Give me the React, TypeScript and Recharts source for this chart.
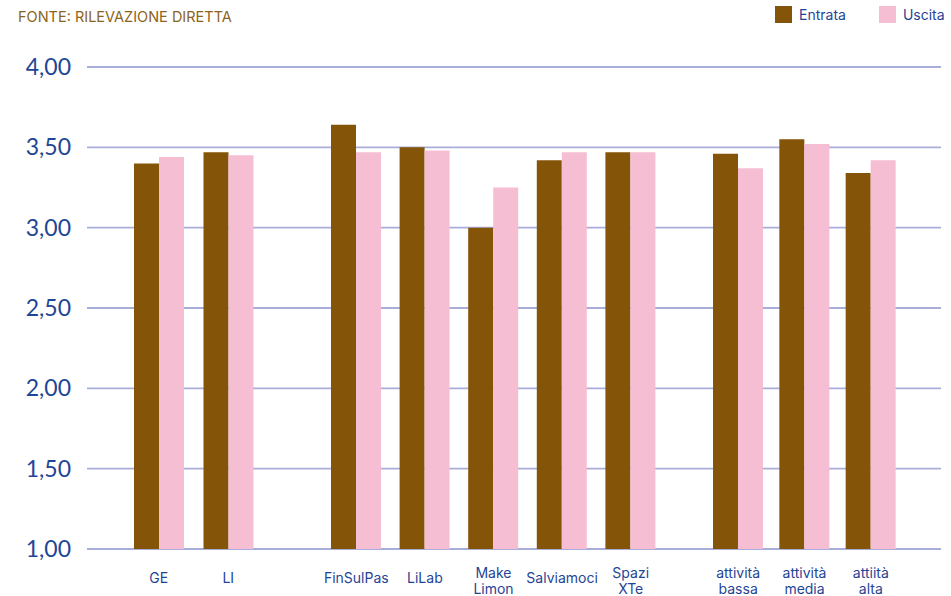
import React from "react";
import { BarChart, Bar, XAxis, YAxis, CartesianGrid } from "recharts";

const groupA = ["GE", "LI"];
const groupB = ["FinSulPas", "LiLab", "Make\nLimon", "Salviamoci", "Spazi\nXTe"];
const groupC = ["attività\nbassa", "attività\nmedia", "attiità\nalta"];

const entrataA = [3.4, 3.47];
const uscitaA = [3.44, 3.45];
const entrataB = [3.64, 3.5, 3.0, 3.42, 3.47];
const uscitaB = [3.47, 3.48, 3.25, 3.47, 3.47];
const entrataC = [3.46, 3.55, 3.34];
const uscitaC = [3.37, 3.52, 3.42];

const yTicks = [1, 1.5, 2, 2.5, 3, 3.5, 4];
const seriesNames = ["Entrata", "Uscita"];

const BROWN = "#845408";
const PINK = "#F6BED3";
const GRID = "#A9ADD9";
const BLUE = "#1F4596";
const FONT = "Inter, 'Noto Sans', sans-serif";

const build = (cats: string[], e: number[], u: number[]) =>
  cats.map((c, i) => ({ name: c, Entrata: e[i], Uscita: u[i] }));

const dataA = build(groupA, entrataA, uscitaA);
const dataB = build(groupB, entrataB, uscitaB);
const dataC = build(groupC, entrataC, uscitaC);

const XTick = (props: any) => {
  const { x, payload } = props;
  const lines = String(payload.value).split("\n");
  const base = lines.length > 1 ? 573.5 : 578.5;
  return (
    <text textAnchor="middle" fill={BLUE} fontSize={14} fontFamily={FONT}>
      {lines.map((l, i) => (
        <tspan key={i} x={x} y={base + i * 15.5} dy="0.355em">
          {l}
        </tspan>
      ))}
    </text>
  );
};

const fmt = (v: number) => v.toFixed(2).replace(".", ",");

const H = 596;
const M = { top: 67, right: 0, bottom: 0, left: 0 };

function Group({
  data,
  width,
  padL,
  padR,
  showY,
  right,
}: {
  data: any[];
  width: number;
  padL: number;
  padR: number;
  showY: boolean;
  right: number;
}) {
  return (
    <BarChart
      width={width}
      height={H}
      data={data}
      margin={{ ...M, right }}
      barGap={0}
      barSize={25}
    >
      <CartesianGrid vertical={false} stroke={GRID} strokeWidth={1.8} />
      <XAxis
        dataKey="name"
        height={47}
        interval={0}
        axisLine={false}
        tickLine={false}
        tick={<XTick />}
        padding={{ left: padL, right: padR }}
      />
      <YAxis
        domain={[1, 4]}
        ticks={yTicks}
        hide={!showY}
        width={87}
        axisLine={false}
        tickLine={false}
        tickMargin={10}
        tickFormatter={fmt}
        tick={{ fill: BLUE, fontSize: 23, fontFamily: "Lato, sans-serif" }}
        allowDataOverflow
      />
      <Bar dataKey="Entrata" name={seriesNames[0]} fill={BROWN} isAnimationActive={false} />
      <Bar dataKey="Uscita" name={seriesNames[1]} fill={PINK} isAnimationActive={false} />
    </BarChart>
  );
}

export default function App() {
  return (
    <div style={{ position: "absolute", left: 0, top: 0, width: 951, height: 596, background: "#fff" }}>
      <div style={{ display: "flex", position: "absolute", left: 0, top: 0 }}>
        <Group data={dataA} width={292} padL={37} padR={29} showY right={0} />
        <Group data={dataB} width={392} padL={30} padR={19} showY={false} right={0} />
        <Group data={dataC} width={267} padL={21} padR={37} showY={false} right={10} />
      </div>
      <div
        style={{
          position: "absolute",
          left: 18,
          top: 8,
          fontFamily: FONT,
          fontSize: 14.5,
          color: "#8B6420",
          whiteSpace: "nowrap",
        }}
      >
        FONTE: RILEVAZIONE DIRETTA
      </div>
      <div
        style={{
          position: "absolute",
          left: 775,
          top: 6,
          display: "flex",
          alignItems: "center",
          fontFamily: FONT,
          fontSize: 14,
          color: BLUE,
          whiteSpace: "nowrap",
        }}
      >
        <span style={{ width: 17, height: 17, background: BROWN, display: "inline-block" }} />
        <span style={{ marginLeft: 7 }}>{seriesNames[0]}</span>
        <span style={{ width: 17, height: 17, background: PINK, display: "inline-block", marginLeft: 33 }} />
        <span style={{ marginLeft: 7 }}>{seriesNames[1]}</span>
      </div>
    </div>
  );
}
